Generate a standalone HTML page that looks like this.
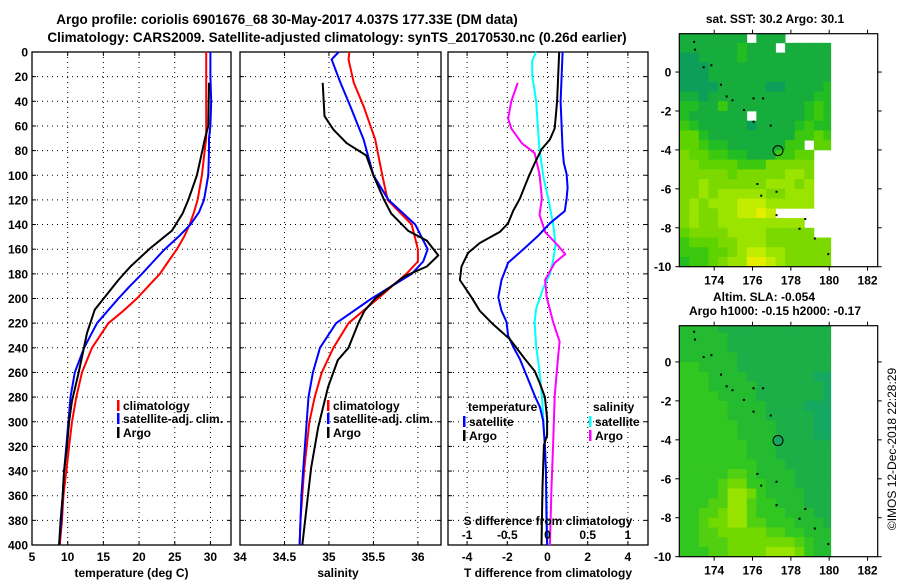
<!DOCTYPE html>
<html><head><meta charset="utf-8"><title>Argo profile</title>
<style>
html,body{margin:0;padding:0;background:#fff;}
svg{display:block;font-family:"Liberation Sans",Arial,sans-serif;}
.b{font-weight:bold;font-size:12px;}
.t{font-weight:bold;font-size:13.5px;}
</style></head>
<body>
<svg id="fig" width="900" height="580" viewBox="0 0 900 580" xmlns="http://www.w3.org/2000/svg">
<rect width="900" height="580" fill="#fff"/>
<text class="t" x="287" y="24" text-anchor="middle">Argo profile: coriolis 6901676_68 30-May-2017 4.037S 177.33E (DM data)</text>
<text class="t" x="337" y="42" text-anchor="middle">Climatology: CARS2009. Satellite-adjusted climatology: synTS_20170530.nc (0.26d earlier)</text>
<text x="896" y="449" font-size="12" text-anchor="middle" transform="rotate(-90 896 449)">©IMOS 12-Dec-2018 22:28:29</text>
<g id="plots"></g>
</svg>
<script>
// ---------- Profile data (depth in dbar) ----------
const tDepthClim = [0,20,40,60,70,80,100,120,130,140,150,160,170,180,190,200,210,220,240,260,280,300,320,340,360,380,400];
const tClim      = [29.4,29.4,29.4,29.4,29.4,29.2,28.8,28.2,27.7,27.1,26.3,25.3,24.1,22.9,21.3,19.7,17.8,15.7,13.4,12.0,11.2,10.6,10.2,9.8,9.4,9.2,8.9];
const tSat       = [30.0,30.0,30.1,30.0,29.8,29.8,29.7,29.1,28.4,27.2,25.5,23.6,22.0,20.4,18.7,17.1,15.6,14.1,12.3,11.0,10.4,10.1,9.8,9.5,9.3,9.1,8.8];
const tDepthArgo = [25,60,71,79,100,120,131,145,159,174,185,209,228,242,261,283,300,320,340,360,380,400];
const tArgo      = [29.8,29.7,29.2,28.9,28.1,26.9,26.1,24.6,21.6,18.8,17.1,13.8,12.7,12.2,11.5,10.6,10.2,9.9,9.5,9.3,9.0,8.8];

const sDepthClim = [0,6,25,44,71,100,120,140,160,170,180,200,220,240,260,280,300,320,340,360,380,400];
const sClim      = [35.23,35.22,35.28,35.39,35.52,35.60,35.66,35.93,36.00,36.00,35.87,35.55,35.22,35.05,34.92,34.84,34.78,34.75,34.72,34.70,34.68,34.67];
const sSat       = [35.11,35.03,35.13,35.24,35.39,35.50,35.67,35.97,36.11,36.06,35.93,35.48,35.08,34.90,34.82,34.77,34.75,34.73,34.71,34.69,34.68,34.67];
const sDepthArgo = [25,52,63,74,84,100,120,131,145,153,165,174,182,200,210,220,240,250,272,304,337,400];
const sArgo      = [34.93,34.95,35.05,35.20,35.42,35.50,35.62,35.70,35.89,36.10,36.23,36.10,35.85,35.52,35.40,35.33,35.22,35.10,34.99,34.88,34.80,34.70];

// ---------- Difference data ----------
const dtDepthSat = [0,40,79,90,99,110,119,129,139,149,159,171,185,199,210,219,230,239,249,259,269,279,288,299,319,339,379,400];
const dtSat      = [0.75,0.65,0.75,0.81,0.95,1.0,0.95,0.86,0.12,-0.46,-1.13,-1.96,-2.29,-2.45,-2.29,-2.04,-1.96,-1.71,-1.38,-1.13,-0.88,-0.63,-0.38,-0.22,-0.13,-0.08,-0.05,-0.02];
const dtDepthArgo= [0,40,62,71,79,90,102,119,129,139,146,155,163,174,185,199,210,221,233,249,259,269,280,297,311,319,353,400];
const dtArgo     = [0.58,0.48,0.36,0.12,-0.3,-0.63,-0.96,-1.38,-1.71,-1.96,-2.37,-3.37,-3.95,-4.28,-4.36,-3.78,-3.37,-2.7,-1.87,-1.13,-0.63,-0.38,-0.13,-0.02,-0.02,-0.18,-0.25,-0.3];
const dsDepthSat = [0,7,19,40,60,79,102,119,139,157,169,180,191,208,219,239,259,279,299,339,400];
const dsSat      = [-0.14,-0.19,-0.19,-0.14,-0.12,-0.10,-0.05,0.01,0.07,0.10,0.07,0.03,-0.05,-0.14,-0.16,-0.14,-0.10,-0.07,-0.05,-0.02,0.0];
const dsDepthArgo= [25,40,54,62,74,82,99,119,132,146,157,164,171,185,199,219,235,249,279,319,353,400];
const dsArgo     = [-0.37,-0.45,-0.49,-0.45,-0.32,-0.16,-0.10,-0.07,-0.10,-0.03,0.13,0.22,0.09,-0.03,-0.01,0.07,0.15,0.13,0.09,0.07,0.05,0.03];

// ---------- Axis ticks ----------
const depthTicks = [0,20,40,60,80,100,120,140,160,180,200,220,240,260,280,300,320,340,360,380,400];
const tTicks = [5,10,15,20,25,30];
const sTicks = [34,34.5,35,35.5,36];
const dTTicks = [-4,-2,0,2,4];
const dSTickLabels = ["-1","-0.5","0","0.5","1"];
const lonTicks = [174,176,178,180,182];
const latTicks = [0,-2,-4,-6,-8,-10];

// ---------- Map grids (0.5 deg cells, lon from 172.2, lat from 2.0 downward) ----------
const sstRows = [
"1111111.111.....",
"1111112111.11111",
"0011112111111111",
"0001111111111111",
"0001111111111111",
"0000111110011112",
"1101111111111122",
"2211311111111232",
"2111111.11111232",
"3211111011112322",
"4421111111113343",
"4432211111133.44",
"54433221113344..",
"55444433355555..",
"55555455555665..",
"55655555566656..",
"55656666655666..",
"56566677766666..",
"5655667787......",
"5655666666666...",
"45555666655555..",
"3444556665555555",
"3334456776655555",
"2334566887655555"];
const slaRows = [
"2222111111111111",
"2222211111111111",
"2222211111111111",
"2222221111111111",
"3322221111111111",
"3332222111111100",
"3332222211111110",
"3333222211111110",
"3333322221111000",
"3333322221111100",
"3333332222111100",
"3333332222111100",
"3333333222111111",
"3333333222111111",
"3333333322211111",
"3333344322221111",
"3333455332221111",
"3333466532222111",
"3334466433222111",
"3344566433322211",
"3345566443332221",
"3344555554433222",
"3344455555554322",
"3334455556665322"];
const sstPalette = ["#0d9e5a","#17ad3c","#22bd22","#3cc80e","#5ed300","#7cd900","#9ae400","#c2ec00","#e6ee00"];
const slaPalette = ["#14a860","#1caf48","#24bb30","#32c620","#50d010","#72d900","#98e400","#b8ec00"];
const argoLon = 177.33, argoLat = -4.037;
const islands = [[172.9,1.6],[172.95,1.2],[173.4,0.3],[173.8,0.4],[174.3,-0.6],[174.6,-1.2],[174.9,-1.4],[175.5,-1.9],[176.0,-1.3],[176.5,-1.3],[176.0,-2.5],[176.9,-2.7],[176.2,-5.7],[176.4,-6.3],[177.2,-6.1],[177.2,-7.3],[178.7,-7.5],[178.4,-8.0],[179.2,-8.5],[179.9,-9.3]];

// ---------- Drawing ----------
const NS = "http://www.w3.org/2000/svg";
const root = document.getElementById("plots");
function mk(tag, attrs, parent){ const e=document.createElementNS(NS,tag); for(const k in attrs) e.setAttribute(k,attrs[k]); (parent||root).appendChild(e); return e; }
function txt(x,y,s,anchor,cls,parent){ const e=mk("text",{x:x,y:y,"text-anchor":anchor||"middle","class":cls||"b"},parent); e.textContent=s; return e; }

const Y0=52, Y1=545;
function yD(d){ return Y0 + (d/400)*(Y1-Y0); }

function panel(name, x0, x1, vmin, vmax, gridVals){
  const g = mk("g",{});
  
  
  const sx = v => x0 + (v-vmin)/(vmax-vmin)*(x1-x0);
  // gridlines
  depthTicks.forEach(d=>{ if(d>0&&d<400){ const l=mk("line",{x1:x0,x2:x1,y1:yD(d),y2:yD(d),stroke:"#000","stroke-width":1,"stroke-dasharray":"1,4"},g);
     
    mk("line",{x1:x0,x2:x0+4,y1:yD(d),y2:yD(d),stroke:"#000"},g); mk("line",{x1:x1-4,x2:x1,y1:yD(d),y2:yD(d),stroke:"#000"},g);} });
  gridVals.forEach(v=>{ const x=sx(v); if(x>x0+1&&x<x1-1){ const l=mk("line",{x1:x,x2:x,y1:Y0,y2:Y1,stroke:"#000","stroke-dasharray":"1,4"},g);
     
    mk("line",{x1:x,x2:x,y1:Y0,y2:Y0+4,stroke:"#000"},g); mk("line",{x1:x,x2:x,y1:Y1-4,y2:Y1,stroke:"#000"},g);} });
  const r = mk("rect",{x:x0,y:Y0,width:x1-x0,height:Y1-Y0,fill:"none",stroke:"#000","stroke-width":1.3},g);
  
  
  return {g:g, sx:sx};
}
function curve(p, depths, vals, color, width, name, scale){
  const k = scale||1;
  const pts = depths.map((d,i)=> p.sx(vals[i]*k).toFixed(1)+","+yD(d).toFixed(1)).join(" ");
  const e = mk("polyline",{points:pts,fill:"none",stroke:color,"stroke-width":width,"stroke-linejoin":"round"},p.g);
  
  
}
function legendItem(g,x,y,color,label,name){
  const m=mk("rect",{x:x,y:y-8,width:2.5,height:11,fill:color},g);
   
  const t=txt(x+6,y+2,label,"start","b",g);
   
}

// depth tick labels
depthTicks.forEach(d=>{ const t=txt(28,yD(d)+4.5,String(d),"end");
    });

// Panel 1 temperature
const p1 = panel("temperature-panel", 32, 231, 5, 32.88, tTicks);
tTicks.forEach(v=>{ const t=txt(p1.sx(v),561,String(v));   });
{ const t=txt(38+ (231-32)/2 - 6 ,577,"temperature (deg C)");   }
curve(p1,tDepthClim,tClim,"#ff0000",2,"temperature-climatology-line");
curve(p1,tDepthClim,tSat,"#0000ff",2,"temperature-satellite-line");
curve(p1,tDepthArgo,tArgo,"#000000",2,"temperature-argo-line");
legendItem(p1.g,117,408,"#ff0000","climatology","legend-climatology");
legendItem(p1.g,117,421,"#0000ff","satellite-adj. clim.","legend-satellite-adj");
legendItem(p1.g,117,435,"#000000","Argo","legend-argo");

// Panel 2 salinity
const p2 = panel("salinity-panel", 240, 441, 34, 36.26, sTicks);
sTicks.forEach(v=>{ const t=txt(p2.sx(v),561,String(v));   });
{ const t=txt(338,577,"salinity");   }
curve(p2,sDepthClim,sClim,"#ff0000",2,"salinity-climatology-line");
curve(p2,sDepthClim,sSat,"#0000ff",2,"salinity-satellite-line");
curve(p2,sDepthArgo,sArgo,"#000000",2,"salinity-argo-line");
legendItem(p2.g,327,408,"#ff0000","climatology","legend-climatology-2");
legendItem(p2.g,327,421,"#0000ff","satellite-adj. clim.","legend-satellite-adj-2");
legendItem(p2.g,327,435,"#000000","Argo","legend-argo-2");

// Panel 3 differences (T axis; S plotted with factor 4)
const p3 = panel("difference-panel", 448, 648, -4.95, 5.0, dTTicks);
dTTicks.forEach(v=>{ const t=txt(p3.sx(v),561,String(v));   });
dSTickLabels.forEach((s,i)=>{ const t=txt(p3.sx(dTTicks[i]),539,s);   });
{ const t=txt(548,525,"S difference from climatology");   }
{ const t=txt(548,577,"T difference from climatology");   }
curve(p3,dsDepthSat,dsSat,"#00ffff",2,"s-diff-satellite-line",4);
curve(p3,dsDepthArgo,dsArgo,"#ff00ff",2,"s-diff-argo-line",4);
curve(p3,dtDepthSat,dtSat,"#0000ff",2,"t-diff-satellite-line");
curve(p3,dtDepthArgo,dtArgo,"#000000",2,"t-diff-argo-line");
{ const t=txt(468,411,"temperature","start");   }
{ const t=txt(593,411,"salinity","start");   }
legendItem(p3.g,463,424,"#0000ff","satellite","legend-t-satellite");
legendItem(p3.g,463,438,"#000000","Argo","legend-t-argo");
legendItem(p3.g,589,424,"#00ffff","satellite","legend-s-satellite");
legendItem(p3.g,589,438,"#ff00ff","Argo","legend-s-argo");

// Maps
function map(name, top, bottom, latTop, rows, pal, circleFill, id){
  const L=679.3, R=877.7, lonMin=172.18, lonMax=182.53;
  const latBottom=-10;
  const sx = lon => L + (lon-lonMin)/(lonMax-lonMin)*(R-L);
  const sy = lat => top + (latTop-lat)/(latTop-latBottom)*(bottom-top);
  const g = mk("g",{});
  
  
  const cp = mk("clipPath",{id:id},g);
  mk("rect",{x:L,y:top,width:sx(180.1)-L,height:bottom-top},cp);
  const cells = mk("g",{"clip-path":"url(#"+id+")"},g);
  rows.forEach((row,ri)=>{
    for(let ci=0;ci<row.length;ci++){
      const c=row[ci]; if(c===".") continue;
      const lon0=172.2+ci*0.5, lat0=2.0-ri*0.5;
      const x=sx(lon0), y=sy(lat0);
      const e=mk("rect",{x:x.toFixed(2),y:y.toFixed(2),width:(sx(lon0+0.5)-x+0.4).toFixed(2),height:(sy(lat0-0.5)-y+0.4).toFixed(2),fill:pal[+c]},cells);
      
      
    }
  });
  islands.forEach(p=>{ const e=mk("rect",{x:sx(p[0]),y:sy(p[1]),width:2,height:2,fill:"#000"},g);
      });
  const c=mk("circle",{cx:sx(argoLon),cy:sy(argoLat),r:5,fill:circleFill,stroke:"#000","stroke-width":1},g);
   
  const fr=mk("rect",{x:L,y:top,width:R-L,height:bottom-top,fill:"none",stroke:"#000","stroke-width":1.2},g);
   
  lonTicks.forEach(v=>{ const x=sx(v);
    mk("line",{x1:x,x2:x,y1:bottom,y2:bottom+4,stroke:"#000"},g); mk("line",{x1:x,x2:x,y1:top,y2:top-4,stroke:"#000"},g);
    const t=txt(x,bottom+18,String(v),"middle","b",g);   });
  latTicks.forEach(v=>{ const y=sy(v);
    mk("line",{x1:L-4,x2:L,y1:y,y2:y,stroke:"#000"},g); mk("line",{x1:R,x2:R+4,y1:y,y2:y,stroke:"#000"},g);
    const t=txt(L-8,y+4.5,String(v),"end","b",g);   });
  return g;
}
map("sst-map", 33.7, 266.7, 1.97, sstRows, sstPalette, "none", "clipA");
map("sla-map", 325.7, 556.7, 1.86, slaRows, slaPalette, "#16a860", "clipB");
{ const t=txt(775,23,"sat. SST: 30.2 Argo: 30.1");   }
{ const t=txt(764,301,"Altim. SLA: -0.054");   }
{ const t=txt(775,315,"Argo h1000: -0.15 h2000: -0.17");   }
</script>
</body></html>
